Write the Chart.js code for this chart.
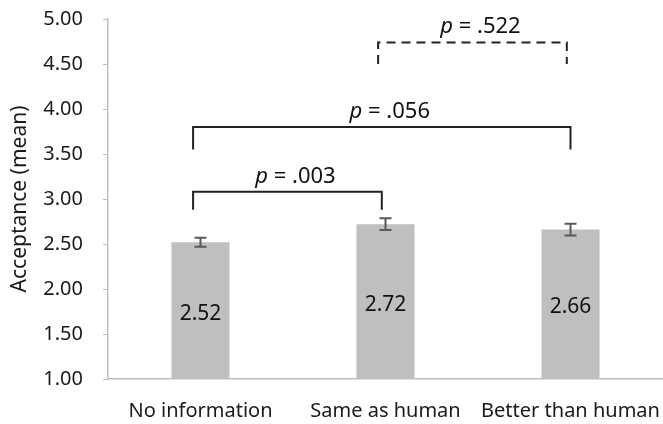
<!DOCTYPE html>
<html>
<head>
<meta charset="utf-8">
<script src="https://cdn.jsdelivr.net/npm/chart.js@4"></script>
<style>
  html, body { margin: 0; padding: 0; background: #fff; }
  #wrap { width: 663px; height: 424px; }
</style>
</head>
<body>
<div id="wrap"><canvas id="my-chart"></canvas></div>
<script>
let categories = ["No information", "Same as human", "Better than human"];
let means = [2.52, 2.72, 2.66];
let errors = [0.05, 0.065, 0.065];

// significance brackets (x in category index units, y in axis units)
let bracketFrom = [-0.04, -0.04, 0.96];
let bracketTo = [0.98, 2.0, 1.98];
let bracketTop = [3.08, 3.8, 4.74];
let bracketFoot = [2.88, 3.55, 4.5];
let bracketP = [".003", ".056", ".522"];
let bracketDashed = [false, false, true];

const FONT = "'Noto Sans', sans-serif";

let extras = {
  id: "extras",
  afterDatasetsDraw(chart) {
    let ctx = chart.ctx;
    let x = chart.scales.x;
    let y = chart.scales.y;
    let meta = chart.getDatasetMeta(0);
    ctx.save();

    // error bars
    ctx.strokeStyle = "#595959";
    ctx.lineWidth = 2;
    means.forEach((m, i) => {
      let cx = meta.data[i].x;
      let top = y.getPixelForValue(m + errors[i]);
      let bot = y.getPixelForValue(m - errors[i]);
      ctx.beginPath();
      ctx.moveTo(cx, top); ctx.lineTo(cx, bot);
      ctx.moveTo(cx - 6, top); ctx.lineTo(cx + 6, top);
      ctx.moveTo(cx - 6, bot); ctx.lineTo(cx + 6, bot);
      ctx.stroke();
    });

    // value labels inside bars (middle of the visible part)
    ctx.fillStyle = "#111";
    ctx.font = "21px " + FONT;
    ctx.textAlign = "center";
    ctx.textBaseline = "middle";
    means.forEach((m, i) => {
      let bar = meta.data[i];
      ctx.fillText(m.toFixed(2), bar.x, (bar.y + y.bottom) / 2 + 3);
    });

    // brackets
    ctx.strokeStyle = "#222";
    ctx.lineWidth = 2;
    bracketP.forEach((p, i) => {
      let x1 = x.getPixelForValue(bracketFrom[i]);
      let x2 = x.getPixelForValue(bracketTo[i]);
      let yt = y.getPixelForValue(bracketTop[i]);
      let yf = y.getPixelForValue(bracketFoot[i]);
      ctx.setLineDash(bracketDashed[i] ? [9, 6] : []);
      ctx.beginPath();
      ctx.moveTo(x1, yf);
      ctx.lineTo(x1, yt);
      ctx.lineTo(x2, yt);
      ctx.lineTo(x2, yf);
      ctx.stroke();

      // label: italic p then " = .xxx"
      ctx.setLineDash([]);
      let rest = " = " + p;
      ctx.font = "italic 22px " + FONT;
      let wp = ctx.measureText("p").width;
      ctx.font = "22px " + FONT;
      let wr = ctx.measureText(rest).width;
      let start = (x1 + x2) / 2 + 8 - (wp + wr) / 2;
      ctx.textAlign = "left";
      ctx.textBaseline = "alphabetic";
      ctx.font = "italic 22px " + FONT;
      ctx.fillText("p", start, yt - 9);
      ctx.font = "22px " + FONT;
      ctx.fillText(rest, start + wp, yt - 9);
    });
    ctx.restore();
  },
};

let myChart = document.getElementById("my-chart").getContext("2d");

let acceptChart = new Chart(myChart, {
  type: "bar",
  data: {
    labels: categories,
    datasets: [
      {
        label: "Acceptance",
        data: means,
        backgroundColor: "#bfbfbf",
        borderWidth: 0,
        categoryPercentage: 1,
        barPercentage: 0.314,
      },
    ],
  },
  options: {
    responsive: true,
    maintainAspectRatio: false,
    animation: false,
    layout: { padding: { top: 19, right: 0, bottom: 0, left: 0 } },
    plugins: {
      legend: { display: false },
      tooltip: { enabled: false },
    },
    scales: {
      x: {
        grid: { display: false },
        border: { display: true, color: "#bfbfbf", width: 1.5 },
        ticks: { color: "#1a1a1a", font: { family: FONT, size: 20 }, padding: 12, maxRotation: 0 },
        afterFit(scale) {
          scale.height = 45;
          scale.paddingLeft = 0;
          scale.paddingRight = 0;
        },
      },
      y: {
        min: 1,
        max: 5,
        grid: { display: true, drawOnChartArea: false, drawTicks: true, tickLength: 5, color: "#bfbfbf" },
        border: { display: true, color: "#bfbfbf", width: 1.5 },
        ticks: {
          stepSize: 0.5,
          padding: 20,
          color: "#1a1a1a",
          font: { family: FONT, size: 20 },
          callback: (v) => v.toFixed(2),
        },
        title: {
          display: true,
          text: "Acceptance (mean)",
          color: "#1a1a1a",
          font: { family: FONT, size: 21 },
          padding: { top: 7, bottom: 0 },
        },
        afterFit(scale) {
          scale.width = 108;
          scale.paddingTop = 0;
          scale.paddingBottom = 0;
        },
      },
    },
  },
  plugins: [extras],
});
</script>
</body>
</html>
